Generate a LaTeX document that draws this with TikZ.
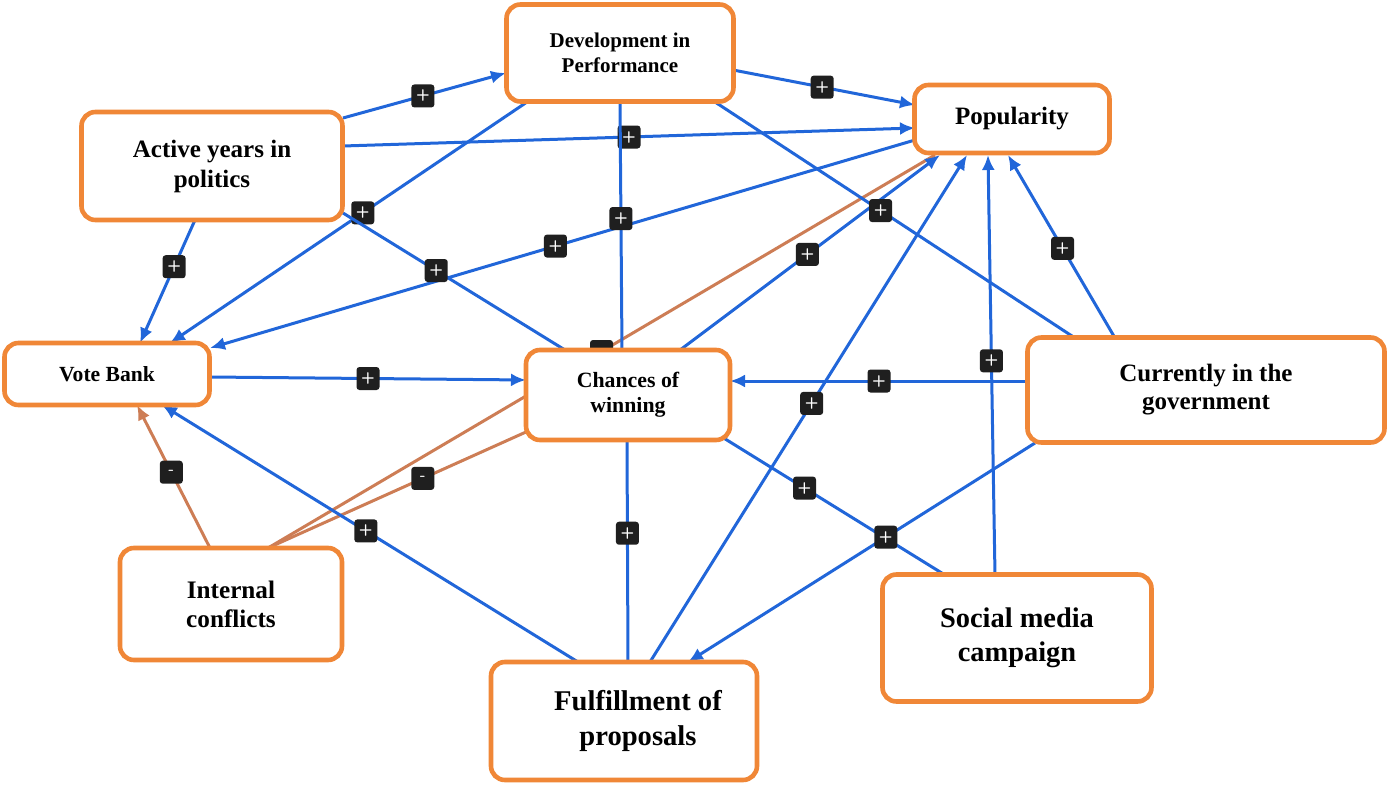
\documentclass[tikz,border=0pt]{standalone}
\usepackage{fontspec}
\setmainfont{Liberation Serif}
\usetikzlibrary{calc,arrows.meta}
\definecolor{lnblue}{RGB}{33,102,217}
\definecolor{boxor}{RGB}{240,135,55}
\definecolor{lnor}{RGB}{205,125,85}
\pgfdeclarelayer{bg}
\pgfsetlayers{bg,main}
\begin{document}
\begin{tikzpicture}[x=0.5pt,y=-0.5pt,
 box/.style={draw=boxor, line width=2.3pt, rounded corners=7pt, fill=white, align=center, inner sep=0pt},
 pl/.style={lnblue, line width=1.5pt},
 ng/.style={lnor, line width=1.5pt},
 tip/.style={-{Latex[length=7.5pt,width=6.5pt]}},
 sg/.style={fill=black!88, rounded corners=1.5pt, minimum size=11.5pt, inner sep=0pt, text=white, font=\sffamily\bfseries\footnotesize},
]
\useasboundingbox (0,0) rectangle (1388,787);

\node[box, minimum width=113.5pt, minimum height=48.5pt, font=\bfseries\fontsize{10.5}{12.5}\selectfont] (dev) at (620,53) {Development in\\Performance};
\node[box, minimum width=97.5pt, minimum height=34pt, font=\bfseries\fontsize{12.5}{15}\selectfont] (pop) at (1012,119) {Popularity};
\node[box, minimum width=130.5pt, minimum height=54pt, font=\bfseries\fontsize{12.5}{15}\selectfont] (act) at (212,166) {Active years in\\politics};
\node[box, minimum width=102.5pt, minimum height=31pt, font=\bfseries\fontsize{10.8}{13}\selectfont] (vote) at (107,374) {Vote Bank};
\node[box, minimum width=102pt, minimum height=45pt, font=\bfseries\fontsize{10.9}{12.5}\selectfont] (chn) at (628,395) {Chances of\\winning};
\node[box, minimum width=178.5pt, minimum height=52.5pt, font=\bfseries\fontsize{12.5}{14}\selectfont] (cur) at (1206,390) {Currently in the\\government};
\node[box, minimum width=111pt, minimum height=56pt, font=\bfseries\fontsize{12.6}{14.5}\selectfont] (int) at (231,604) {Internal\\conflicts};
\node[box, minimum width=133pt, minimum height=59pt, font=\bfseries\fontsize{14.3}{17.5}\selectfont] (ful) at (624,721) {\hspace*{14pt}Fulfillment of\\\hspace*{14pt}proposals};
\node[box, minimum width=134.5pt, minimum height=63.5pt, font=\bfseries\fontsize{14.2}{17}\selectfont] (soc) at (1017,638) {Social media\\campaign};

\begin{pgfonlayer}{bg}
% orange (negative) links
\draw[ng] ($(int)+(37,-56)$) -- node[sg,pos=.50]{-} ($(pop)+(-77,36)$);
\draw[ng,tip] ($(int)+(-21,-56)$) -- node[sg,pos=.53]{-} ($(vote)+(30,31)$);
\draw[ng] ($(int)+(37,-56)$) -- node[sg,pos=.60]{-} ($(chn)+(-102,37)$);
% blue (positive) links
\draw[pl,tip] ($(act)+(131,-48)$) -- node[sg,pos=.49]{+} ($(dev)+(-114,20)$);
\draw[pl,tip] ($(act)+(131,-20)$) -- node[sg,pos=.50]{+} ($(pop)+(-97,9)$);
\draw[pl,tip] ($(dev)+(113,17)$) -- node[sg,pos=.49]{+} ($(pop)+(-97,-14)$);
\draw[pl,tip] ($(dev)+(-93,49)$) -- node[sg,pos=.46]{+} ($(vote)+(63,-31)$);
\draw[pl,tip] ($(act)+(-17,54)$) -- node[sg,pos=.38]{+} ($(vote)+(33,-31)$);
\draw[pl,tip] ($(pop)+(-97,21)$) -- node[sg,pos=.51]{+} ($(vote)+(103,-26)$);
\draw[pl] ($(act)+(131,47)$) -- node[sg,pos=.42]{+} ($(chn)+(-63,-45)$);
\draw[pl] ($(dev)+(0,49)$) -- node[sg,pos=.47]{+} ($(chn)+(-6,-45)$);
\draw[pl,tip] ($(chn)+(52,-45)$) -- node[sg,pos=.49]{+} ($(pop)+(-72,36)$);
\draw[pl,tip] ($(vote)+(103,3)$) -- node[sg,pos=.50]{+} ($(chn)+(-102,-15)$);
\draw[pl,tip] ($(cur)+(-178,-9)$) -- node[sg,pos=.50]{+} ($(chn)+(102,-14)$);
\draw[pl] ($(dev)+(95,49)$) -- node[sg,pos=.46]{+} ($(cur)+(-131,-52)$);
\draw[pl,tip] ($(ful)+(26,-59)$) -- node[sg,pos=.51]{+} ($(pop)+(-45,36)$);
\draw[pl,tip] ($(soc)+(-22,-63)$) -- node[sg,pos=.51]{+} ($(pop)+(-24,36)$);
\draw[pl,tip] ($(cur)+(-91,-52)$) -- node[sg,pos=.49]{+} ($(pop)+(-4,36)$);
\draw[pl,tip] ($(ful)+(-46,-59)$) -- node[sg,pos=.51]{+} ($(vote)+(55,31)$);
\draw[pl] ($(chn)+(-1,45)$) -- node[sg,pos=.42]{+} ($(ful)+(4,-59)$);
\draw[pl] ($(chn)+(94,42)$) -- node[sg,pos=.37]{+} ($(soc)+(-72,-63)$);
\draw[pl,tip] ($(cur)+(-171,53)$) -- node[sg,pos=.43]{+} ($(ful)+(64,-59)$);
\end{pgfonlayer}
\end{tikzpicture}
\end{document}
